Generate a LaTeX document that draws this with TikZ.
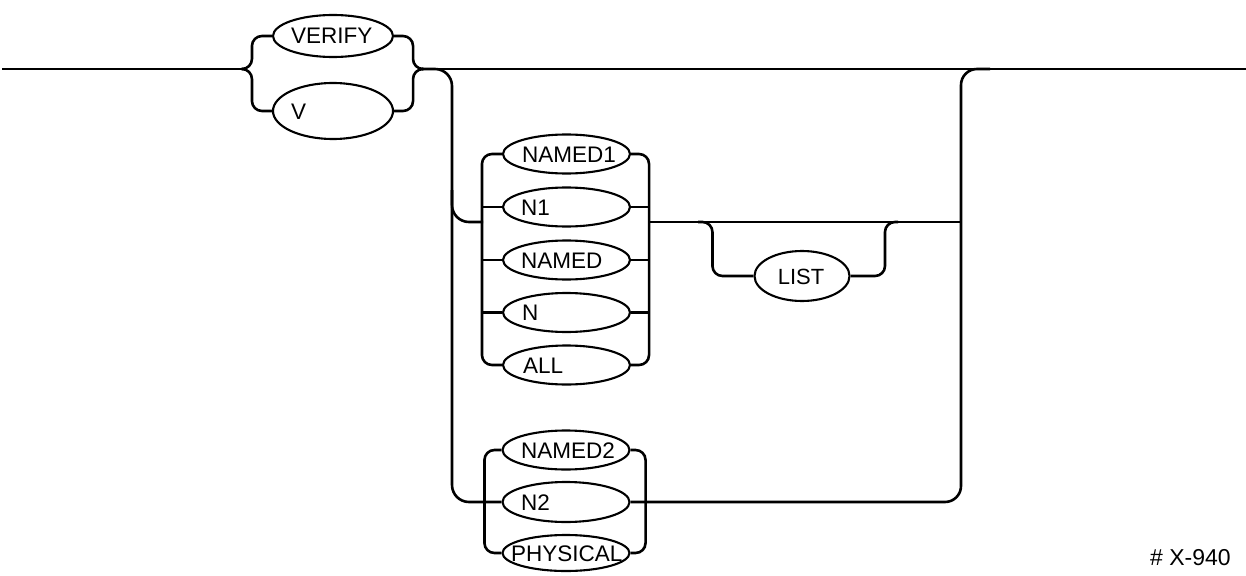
\documentclass[tikz,border=0pt]{standalone}
\usepackage{fontspec}
\setmainfont{Liberation Sans}
\usetikzlibrary{shapes.geometric}
\tikzset{
  rail/.style={line width=2.6pt, line join=round},
  opt/.style={draw, ellipse, line width=2.1pt, inner sep=0pt,
              minimum width=127pt, minimum height=39pt},
  word/.style={anchor=base west, inner sep=0pt, font=\fontsize{22.5}{26}\selectfont},
}
\begin{document}
\begin{tikzpicture}[x=1pt, y=-1pt]
\useasboundingbox (0,0) rectangle (1246,575);

% keyword choice
\node[opt, minimum width=120pt, minimum height=42pt] (VERIFY) at (333,36) {};
\node[opt, minimum width=120pt, minimum height=56pt] (V) at (333,111) {};
\node[word] (tVERIFY) at (291,44) {VERIFY};
\node[word] (tV) at (291,119) {V};

% first operand group
\node[opt] (NAMED1) at (566.5,154) {};
\node[opt] (N1) at (566.5,207) {};
\node[opt] (NAMED) at (566.5,260) {};
\node[opt] (N) at (566.5,312.5) {};
\node[opt] (ALL) at (566.5,365) {};
\node[word] (tNAMED1) at (522,162) {NAMED1};
\node[word] (tN1) at (521,215) {N1};
\node[word] (tNAMED) at (521,268) {NAMED};
\node[word] (tN) at (522,320.5) {N};
\node[word] (tALL) at (523,373) {ALL};

% optional list
\node[opt, minimum width=95pt, minimum height=50pt] (LIST) at (802,276) {};
\node[anchor=base, inner sep=0pt, font=\fontsize{22}{26}\selectfont] (tLIST) at (801,284) {LIST};

% second operand group
\node[opt] (NAMED2) at (566,450) {};
\node[opt, minimum height=40pt] (N2) at (566,502) {};
\node[opt, minimum height=36pt] (PHYSICAL) at (566,553) {};
\node[word] (tNAMED2) at (521,458) {NAMED2};
\node[word] (tN2) at (521,510) {N2};
\node[word] (tPHYSICAL) at (511,561) {PHYSICAL};

% figure number
\node[anchor=base west, inner sep=0pt, font=\fontsize{23}{27}\selectfont] (fig) at (1150,565) {\# X-940};

% junction points
\coordinate (start) at (2,69);
\coordinate (Lb) at (243,69);
\coordinate (Rb) at (422,69);
\coordinate (end) at (1246,69);
\coordinate (dnA) at (452,190);
\coordinate (dnB) at (452,502);
\coordinate (uIn) at (483,222);
\coordinate (uOut) at (648,222);
\coordinate (jL) at (961,222);
\coordinate (lA) at (698,222);
\coordinate (lBv) at (885,222);
\coordinate (lBo) at (898,222);
\coordinate (jR) at (961,69);
\coordinate (jR2) at (990,69);

% main line
\draw[rail] (start) -- (Lb);
\draw[rail] (Rb) -- (end);

% braces around the keyword
\begin{scope}[rounded corners=10pt]
\draw[rail] (Lb) -| ([xshift=-20pt]VERIFY.west) -- (VERIFY.west);
\draw[rail] (Lb) -| ([xshift=-20pt]V.west) -- (V.west);
\draw[rail] (VERIFY.east) -- ([xshift=19pt]VERIFY.east) |- (Rb);
\draw[rail] (V.east) -- ([xshift=19pt]V.east) |- (Rb);
\end{scope}

% branch down to both operand groups
\draw[rail, rounded corners=17pt] (Rb) -| (dnB) -- (N2.west);
\draw[rail, rounded corners=17pt] (dnA) |- (uIn);

% first group rails
\begin{scope}[rounded corners=10pt]
\draw[rail] (NAMED1.west) -| ([xshift=-20pt]ALL.west) -- (ALL.west);
\draw[rail] (NAMED1.east) -| ([xshift=18pt]ALL.east) -- (ALL.east);
\end{scope}
\draw[rail] (N1.west) -- ([xshift=-20pt]N1.west);
\draw[rail] (NAMED.west) -- ([xshift=-20pt]NAMED.west);
\draw[rail] (N.west) -- ([xshift=-20pt]N.west);
\draw[rail] (N1.east) -- ([xshift=18pt]N1.east);
\draw[rail] (NAMED.east) -- ([xshift=18pt]NAMED.east);
\draw[rail] (N.east) -- ([xshift=18pt]N.east);

% output of first group and the optional list
\draw[rail] (uOut) -- (jL);
\begin{scope}[rounded corners=10pt]
\draw[rail] (lA) -| ([xshift=-41pt]LIST.west) -- (LIST.west);
\draw[rail] (LIST.east) -| (lBv) -- (lBo);
\end{scope}

% second group rails
\begin{scope}[rounded corners=10pt]
\draw[rail] (NAMED2.west) -| ([xshift=-17pt]PHYSICAL.west) -- (PHYSICAL.west);
\draw[rail] (NAMED2.east) -| ([xshift=15pt]PHYSICAL.east) -- (PHYSICAL.east);
\end{scope}

% return to the main line
\draw[rail, rounded corners=16pt] (N2.east) -| (jR) -- (jR2);
\end{tikzpicture}
\end{document}
